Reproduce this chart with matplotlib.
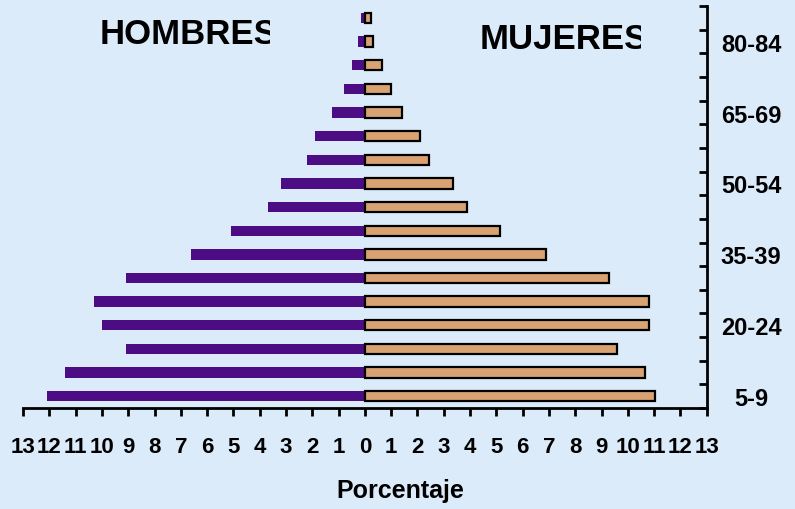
import matplotlib.pyplot as plt
from matplotlib.transforms import Bbox, TransformedBbox

# age groups bottom -> top
edades = ["5-9", "10-14", "15-19", "20-24", "25-29", "30-34", "35-39", "40-44",
          "45-49", "50-54", "55-59", "60-64", "65-69", "70-74", "75-79", "80-84", "85+"]
hombres = [12.1, 11.4, 9.1, 10.0, 10.3, 9.1, 6.6, 5.1,
           3.7, 3.2, 2.2, 1.9, 1.25, 0.8, 0.5, 0.27, 0.15]
mujeres = [11.05, 10.65, 9.6, 10.8, 10.8, 9.3, 6.9, 5.15,
           3.9, 3.35, 2.45, 2.1, 1.4, 1.0, 0.65, 0.3, 0.25]
xticks = list(range(-13, 14))
etiquetas_y = [0, 3, 6, 9, 12, 15]

fondo = "#dcebfa"
morado = "#4b0c84"
canela = "#d9a272"
fuente = ["Liberation Sans", "DejaVu Sans"]

fig = plt.figure(figsize=(7.95, 5.10), dpi=100, facecolor=fondo)
ax = fig.add_axes([0.029, 0.198, 0.860, 0.788])
ax.set_facecolor("none")

pos = list(range(len(edades)))
ax.barh(pos, [-v for v in hombres], height=0.44, color=morado, edgecolor="none")
ax.barh(pos, mujeres, height=0.44, color=canela, edgecolor="black", linewidth=1.6)

ax.set_xlim(-13, 13)
ax.set_ylim(-0.5, len(edades) - 0.5)

for s in ["left", "top"]:
    ax.spines[s].set_visible(False)
ax.spines["bottom"].set_linewidth(2)
ax.spines["right"].set_linewidth(2)

ax.set_xticks(xticks)
ax.set_xticklabels([str(abs(v)) for v in xticks], fontfamily=fuente,
                   fontweight="bold", fontsize=16)
ax.tick_params(axis="x", direction="out", length=6, width=2, pad=14)

ax.yaxis.tick_right()
ax.set_yticks([p - 0.5 for p in pos] + [len(edades) - 0.5])
ax.set_yticklabels([])
ax.tick_params(axis="y", which="major", direction="in", length=6, width=2)
ax.set_yticks(etiquetas_y, minor=True)
ax.set_yticklabels([edades[i] for i in etiquetas_y], minor=True,
                   fontfamily=fuente, fontweight="bold", fontsize=17, ha="center")
ax.tick_params(axis="y", which="minor", length=0, pad=32)

fig.text(0.503, 0.038, "Porcentaje", ha="center", va="center",
         fontfamily=fuente, fontweight="bold", fontsize=18)

t1 = fig.text(100 / 795, 1 - 34 / 510, "HOMBRES", ha="left", va="center",
              fontfamily=fuente, fontweight="bold", fontsize=25)
t1.set_clip_box(TransformedBbox(Bbox([[0, 0], [270 / 795, 1]]), fig.transFigure))
t1.set_clip_on(True)
t2 = fig.text(480 / 795, 1 - 40 / 510, "MUJERES", ha="left", va="center",
              fontfamily=fuente, fontweight="bold", fontsize=25)
t2.set_clip_box(TransformedBbox(Bbox([[0, 0], [641 / 795, 1]]), fig.transFigure))
t2.set_clip_on(True)

fig.savefig("out.png", dpi=100, facecolor=fondo)
